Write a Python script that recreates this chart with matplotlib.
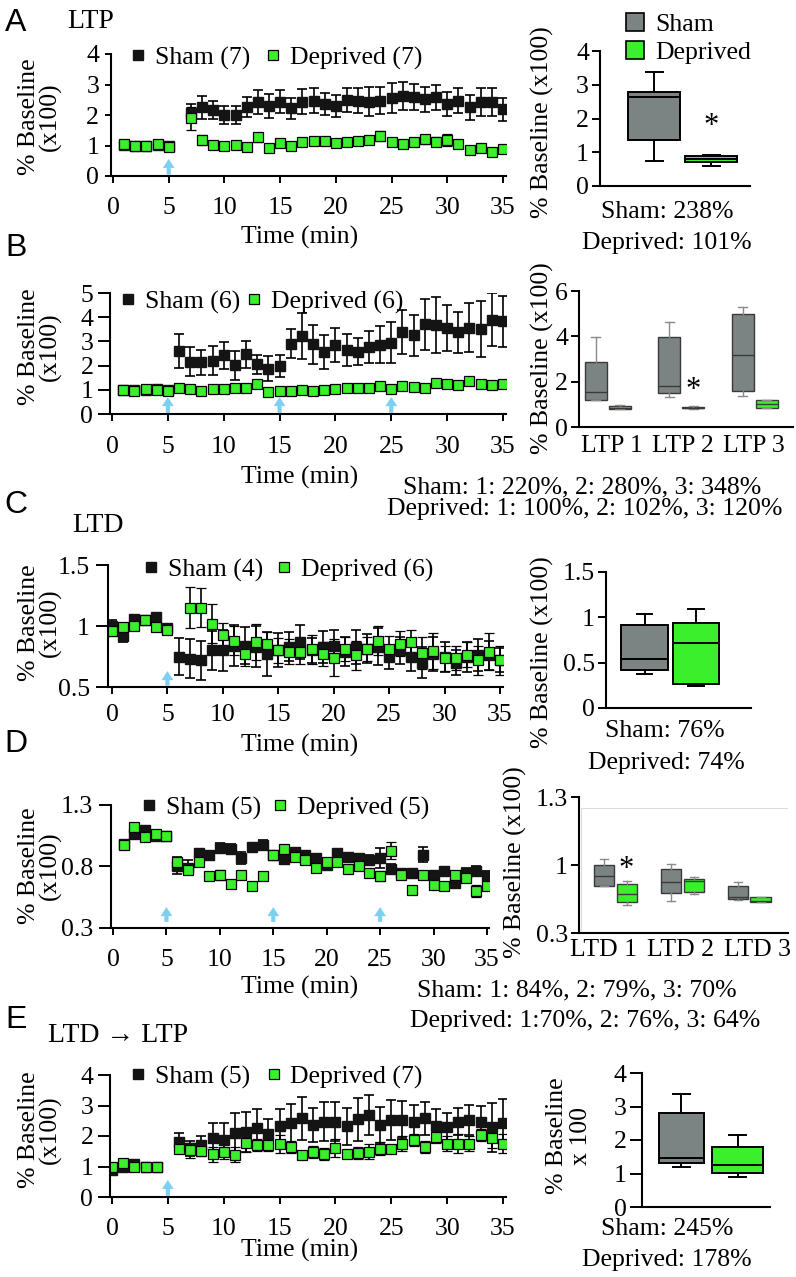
import numpy as np
import matplotlib
matplotlib.use('Agg')
import matplotlib.pyplot as plt
from matplotlib.lines import Line2D
from matplotlib.patches import Rectangle

# ---------------- data ----------------
nan = np.nan

# A: LTP, one train at 5 min
time_a = list(range(1, 6)) + list(range(7, 36))
sham_a = [1.02, 1.0, 1.0, 1.02, 0.98,
          2.05, 2.25, 2.16, 2.0, 2.0, 2.27, 2.42, 2.3, 2.44, 2.22,
          2.44, 2.47, 2.36, 2.3, 2.49, 2.47, 2.44, 2.47, 2.55, 2.63,
          2.6, 2.51, 2.58, 2.36, 2.47, 2.25, 2.42, 2.42, 2.19]
sham_a_err = [0.05, 0.05, 0.05, 0.05, 0.05,
              0.3, 0.38, 0.3, 0.28, 0.28, 0.32, 0.4, 0.4, 0.38, 0.35,
              0.4, 0.42, 0.35, 0.35, 0.38, 0.42, 0.48, 0.45, 0.5, 0.45,
              0.42, 0.4, 0.42, 0.4, 0.42, 0.4, 0.45, 0.45, 0.38]
dep_a = [1.04, 0.98, 0.99, 1.04, 0.96,
         1.89, 1.18, 1.02, 0.99, 1.02, 0.96, 1.27, 0.93, 1.07, 0.98,
         1.13, 1.15, 1.16, 1.07, 1.1, 1.16, 1.18, 1.31, 1.13, 1.05,
         1.13, 1.21, 1.13, 1.18, 1.05, 0.85, 0.93, 0.78, 0.87]
dep_a_err = [0.04, 0.04, 0.04, 0.04, 0.04,
             0.38, 0.15, 0.08, 0.08, 0.08, 0.08, 0.15, 0.08, 0.1, 0.08,
             0.08, 0.08, 0.08, 0.08, 0.1, 0.08, 0.08, 0.15, 0.08, 0.08,
             0.08, 0.15, 0.15, 0.2, 0.08, 0.08, 0.08, 0.08, 0.08]
stim_a = [5]

# B: LTP, three trains
time_b = list(range(1, 36))
sham_b = [1.0, 0.98, 1.0, 1.05, 0.98,
          2.6, 2.16, 2.13, 2.2, 2.43, 2.02, 2.46, 2.05, 1.88, 1.98,
          2.91, 3.21, 2.88, 2.57, 2.84, 2.64, 2.57, 2.77, 2.87, 2.94,
          3.39, 3.26, 3.7, 3.67, 3.56, 3.37, 3.57, 3.5, 3.9, 3.83]
sham_b_err = [0.05, 0.05, 0.05, 0.05, 0.05,
              0.7, 0.6, 0.5, 0.6, 0.55, 0.6, 0.55, 0.4, 0.5, 0.45,
              0.6, 0.95, 0.8, 0.7, 0.7, 0.65, 0.55, 0.65, 0.75, 0.85,
              0.9, 0.85, 1.05, 1.15, 0.95, 0.85, 1.0, 1.15, 1.1, 1.05]
dep_b = [0.99, 0.96, 1.02, 0.99, 0.96,
         1.06, 1.02, 0.95, 1.02, 1.02, 1.09, 1.06, 1.24, 0.89, 0.95,
         0.96, 0.99, 0.95, 0.99, 1.03, 1.09, 1.09, 1.06, 1.15, 1.03,
         1.15, 1.13, 1.09, 1.3, 1.24, 1.2, 1.36, 1.24, 1.2, 1.22]
dep_b_err = [0.05, 0.05, 0.05, 0.05, 0.05,
             0.06, 0.06, 0.06, 0.06, 0.06, 0.07, 0.06, 0.08, 0.06, 0.06,
             0.06, 0.06, 0.06, 0.06, 0.06, 0.07, 0.06, 0.06, 0.07, 0.06,
             0.07, 0.07, 0.06, 0.08, 0.07, 0.07, 0.08, 0.07, 0.07, 0.07]
stim_b = [5, 15, 25]

# C: LTD
time_c = list(range(0, 36))
sham_c = [1.0, 0.916, 1.06, 1.05, 1.075, 0.98,
          0.75, 0.73, 0.72, 0.8, 0.8, 0.84, 0.84, 0.83, 0.77, 0.8,
          0.83, 0.87, 0.8, 0.83, 0.84, 0.79, 0.83, 0.815, 0.83, 0.745,
          0.8, 0.745, 0.70, 0.77, 0.745, 0.70, 0.745, 0.76, 0.76, 0.72]
sham_c_err = [0.05, 0.05, 0.02, 0.02, 0.02, 0.03,
              0.15, 0.16, 0.16, 0.16, 0.17, 0.17, 0.15, 0.17, 0.18, 0.14,
              0.12, 0.14, 0.1, 0.13, 0.13, 0.12, 0.14, 0.12, 0.15, 0.1,
              0.11, 0.11, 0.13, 0.14, 0.12, 0.1, 0.12, 0.13, 0.12, 0.1]
dep_c = [0.96, 0.99, 1.0, 1.05, 0.99, 0.97,
         nan, 1.15, 1.15, 1.02, 0.925, 0.88, 0.77, 0.87, 0.85, 0.8,
         0.79, 0.79, 0.81, 0.77, 0.74, 0.81, 0.76, 0.81, 0.88, 0.815,
         0.855, 0.87, 0.78, 0.795, 0.735, 0.74, 0.765, 0.72, 0.79, 0.72]
dep_c_err = [0.04, 0.03, 0.02, 0.02, 0.02, 0.03,
             nan, 0.17, 0.16, 0.16, 0.1, 0.12, 0.1, 0.15, 0.1, 0.1,
             0.1, 0.1, 0.12, 0.1, 0.15, 0.1, 0.12, 0.1, 0.12, 0.1,
             0.1, 0.1, 0.13, 0.15, 0.1, 0.1, 0.1, 0.12, 0.15, 0.12]
stim_c = [5]

# D: LTD, three trains
time_d = list(range(1, 36))
sham_d = [0.98, 1.065, 1.1, 1.05, 1.05,
          0.805, 0.79, 0.91, 0.89, 0.95, 0.94, 0.87, 0.96, 0.976, 0.895,
          0.86, 0.92, 0.895, 0.87, 0.81, 0.91, 0.88, 0.87, 0.85, 0.87,
          0.78, 0.75, 0.75, 0.895, 0.73, 0.76, 0.665, 0.745, 0.76, 0.72]
sham_d_err = [0.02, 0.02, 0.02, 0.02, 0.02,
              0.07, 0.06, 0.03, 0.03, 0.04, 0.04, 0.05, 0.03, 0.04, 0.03,
              0.03, 0.03, 0.03, 0.03, 0.03, 0.03, 0.03, 0.03, 0.04, 0.08,
              0.04, 0.03, 0.03, 0.06, 0.03, 0.03, 0.04, 0.04, 0.04, 0.04]
dep_d = [0.976, 1.12, 1.04, 1.065, 1.045,
         0.84, 0.77, 0.84, 0.725, 0.73, 0.66, 0.73, 0.645, 0.72, 0.895,
         0.94, 0.875, 0.855, 0.785, 0.84, 0.835, 0.78, 0.805, 0.745, 0.72,
         0.93, 0.73, 0.61, 0.73, 0.65, 0.645, 0.73, 0.71, 0.6, 0.645]
dep_d_err = [0.02, 0.02, 0.02, 0.02, 0.02,
             0.03, 0.03, 0.03, 0.03, 0.04, 0.03, 0.03, 0.03, 0.03, 0.03,
             0.03, 0.02, 0.03, 0.03, 0.02, 0.02, 0.02, 0.02, 0.03, 0.04,
             0.07, 0.03, 0.02, 0.03, 0.02, 0.02, 0.02, 0.02, 0.05, 0.02]
stim_d = [5, 15, 25]

# E: LTD -> LTP
time_e = list(range(0, 5)) + list(range(6, 36))
sham_e = [0.88, 0.99, 1.07, 0.98, 1.0,
          1.81, 1.6, 1.7, 1.92, 1.88, 2.1, 2.14, 2.25, 2.06, 2.32,
          2.41, 2.58, 2.36, 2.47, 2.47, 2.32, 2.55, 2.68, 2.36, 2.52,
          2.54, 2.47, 2.58, 2.32, 2.3, 2.47, 2.52, 2.47, 2.28, 2.41]
sham_e_err = [0.05, 0.05, 0.05, 0.05, 0.05,
              0.3, 0.25, 0.3, 0.5, 0.55, 0.65, 0.65, 0.65, 0.5, 0.55,
              0.65, 0.7, 0.55, 0.65, 0.65, 0.6, 0.7, 0.65, 0.6, 0.65,
              0.6, 0.55, 0.55, 0.55, 0.45, 0.45, 0.5, 0.5, 0.8, 0.8]
dep_e = [0.99, 1.1, 1.0, 0.99, 1.0,
         1.59, 1.53, 1.5, 1.4, 1.48, 1.39, 1.78, 1.7, 1.7, 1.73,
         1.64, 1.39, 1.48, 1.42, 1.61, 1.42, 1.45, 1.48, 1.59, 1.59,
         1.75, 1.86, 1.64, 1.97, 1.75, 1.75, 1.75, 2.03, 1.92, 1.75]
dep_e_err = [0.04, 0.04, 0.04, 0.04, 0.04,
             0.1, 0.25, 0.15, 0.25, 0.25, 0.25, 0.3, 0.2, 0.2, 0.3,
             0.2, 0.1, 0.2, 0.2, 0.3, 0.1, 0.2, 0.25, 0.2, 0.1,
             0.25, 0.2, 0.2, 0.2, 0.25, 0.3, 0.25, 0.2, 0.3, 0.3]
stim_e = [5]

# box summaries: [whisker low, q1, median, q3, whisker high]
box_a = [[0.74, 1.37, 2.64, 2.8, 3.38],
         [0.6, 0.71, 0.8, 0.89, 0.93]]
box_b = [[1.18, 1.21, 1.55, 2.85, 3.95], [0.78, 0.8, 0.85, 0.92, 0.95],
         [1.33, 1.5, 1.8, 3.98, 4.62], [0.8, 0.82, 0.86, 0.9, 0.92],
         [1.36, 1.6, 3.17, 5.0, 5.3], [0.85, 0.86, 1.02, 1.18, 1.2]]
box_c = [[0.38, 0.415, 0.544, 0.91, 1.04],
         [0.246, 0.265, 0.717, 0.94, 1.09]]
box_d = [[0.78, 0.783, 0.886, 1.0, 1.06], [0.586, 0.614, 0.697, 0.803, 0.834],
         [0.628, 0.714, 0.824, 0.955, 1.007], [0.70, 0.717, 0.834, 0.859, 0.879],
         [0.638, 0.648, 0.672, 0.786, 0.82], [0.614, 0.614, 0.63, 0.669, 0.669]]
box_e = [[1.18, 1.32, 1.46, 2.8, 3.36],
         [0.9, 1.02, 1.25, 1.79, 2.16]]

ltp_groups = ['LTP 1', 'LTP 2', 'LTP 3']
ltd_groups = ['LTD 1', 'LTD 2', 'LTD 3']
legend_a = ['Sham (7)', 'Deprived (7)']
legend_b = ['Sham (6)', 'Deprived (6)']
legend_c = ['Sham (4)', 'Deprived (6)']
legend_d = ['Sham (5)', 'Deprived (5)']
legend_e = ['Sham (5)', 'Deprived (7)']

# ---------------- style ----------------
plt.rcParams['font.family'] = ['Liberation Serif', 'DejaVu Serif']
plt.rcParams['font.size'] = 18.5
plt.rcParams['axes.linewidth'] = 1.5
plt.rcParams['xtick.major.width'] = 1.4
plt.rcParams['ytick.major.width'] = 1.4
plt.rcParams['xtick.major.size'] = 5
plt.rcParams['ytick.major.size'] = 4.5
plt.rcParams['xtick.major.pad'] = 3
plt.rcParams['ytick.major.pad'] = 2

W, H = 796, 1277
GRAY = '#7c8383'
GREEN = '#3cef2c'
SHAM_MK = '#141414'
ARROW = '#7dd0f2'

fig = plt.figure(figsize=(W / 100, H / 100), dpi=100)


def px_axes(rect):
    l, t, r, b = rect
    ax = fig.add_axes([l / W, 1 - b / H, (r - l) / W, (b - t) / H])
    ax.spines['top'].set_visible(False)
    ax.spines['right'].set_visible(False)
    return ax


def ftext(x, y, s, **kw):
    fig.text(x / W, 1 - y / H, s, ha=kw.pop('ha', 'center'), va=kw.pop('va', 'center'), **kw)


def trace_panel(rect, t, sham, sham_err, dep, dep_err, stim, labels,
                xlim, ylim, yticks, yticklabels, leg_px, colsp, arrow_y,
                ylen=9, ypad=3, xpad=12):
    ax = px_axes(rect)
    ax.errorbar(t, sham, yerr=sham_err, fmt='s', ms=7, mfc=SHAM_MK, mec=SHAM_MK,
                ecolor='black', elinewidth=1.2, capsize=3.5, capthick=1.2)
    ax.errorbar(t, dep, yerr=dep_err, fmt='s', ms=7, mfc=GREEN, mec='black', mew=0.9,
                ecolor='black', elinewidth=1.2, capsize=3.5, capthick=1.2)
    for s in stim:
        ax.annotate('', xy=(s, arrow_y[1]), xytext=(s, arrow_y[0]),
                    xycoords=('data', 'axes fraction'), textcoords=('data', 'axes fraction'),
                    arrowprops=dict(facecolor=ARROW, edgecolor='none', width=3,
                                    headwidth=8.5, headlength=6.5, shrink=0))
    ax.set_xlim(*xlim)
    ax.set_ylim(*ylim)
    ax.set_xticks([0, 5, 10, 15, 20, 25, 30, 35])
    ax.set_yticks(yticks, yticklabels)
    ax.tick_params(axis='y', length=ylen, pad=ypad)
    ax.tick_params(axis='x', pad=xpad)
    l, tp, r, b = rect
    handles = [Line2D([], [], ls='none', marker='s', ms=7, mfc=SHAM_MK, mec=SHAM_MK),
               Line2D([], [], ls='none', marker='s', ms=7, mfc=GREEN, mec='black', mew=0.9)]
    ax.legend(handles, labels, loc='center left',
              bbox_to_anchor=((leg_px[0] - 9 - l) / (r - l), (b - leg_px[1]) / (b - tp)),
              ncol=2, frameon=False, handlelength=0.7, handletextpad=0.3,
              columnspacing=colsp, borderpad=0, borderaxespad=0)
    return ax


def box_panel(rect, data, positions, widths, faces, xlim, ylim, yticks, yticklabels,
              edge='black', lw=1.4, whisk='black', capw=0.3):
    ax = px_axes(rect)
    stats = [dict(whislo=d[0], q1=d[1], med=d[2], q3=d[3], whishi=d[4], fliers=[])
             for d in data]
    art = ax.bxp(stats, positions=positions, widths=widths, capwidths=capw,
                 patch_artist=True, showfliers=False,
                 boxprops=dict(edgecolor=edge, linewidth=lw),
                 medianprops=dict(color=edge, linewidth=lw),
                 whiskerprops=dict(color=whisk, linewidth=lw),
                 capprops=dict(color=whisk, linewidth=lw))
    for patch, fc in zip(art['boxes'], faces):
        patch.set_facecolor(fc)
    ax.set_xlim(*xlim)
    ax.set_ylim(*ylim)
    ax.set_yticks(yticks, yticklabels)
    ax.tick_params(axis='y', length=6)
    ax.tick_params(axis='x', length=0)
    ax.set_xticks([])
    return ax


# ---------------- A ----------------
trace_panel((111, 54, 506, 176), time_a, sham_a, sham_a_err, dep_a, dep_a_err, stim_a,
            legend_a, (-0.18, 35.27), (0, 4), [0, 1, 2, 3, 4], ['0', '1', '2', '3', '4'],
            (138, 58), 0.55, (0.01, 0.14), ylen=4.5, ypad=4, xpad=10)
ax = box_panel((600, 51, 750, 186), box_a, [1, 2], 0.91, [GRAY, GREEN],
               (0.05, 2.68), (0, 4), [0, 1, 2, 3, 4], ['0', '1', '2', '3', '4'])
ax.text(2, 1.75, '*', ha='center', va='center', fontsize=22)
ax.legend([Line2D([], [], ls='none', marker='s', ms=13, mfc=GRAY, mec='black', mew=1.2),
           Line2D([], [], ls='none', marker='s', ms=13, mfc=GREEN, mec='black', mew=1.2)],
          ['Sham', 'Deprived'], loc='upper left', bbox_to_anchor=(0.165, 1.28),
          frameon=False, handlelength=0.8, handletextpad=0.4, labelspacing=0.2,
          borderpad=0, borderaxespad=0)

# ---------------- B ----------------
trace_panel((110, 293, 506, 414), time_b, sham_b, sham_b_err, dep_b, dep_b_err, stim_b,
            legend_b, (-0.18, 35.27), (0, 5), [0, 1, 2, 3, 4, 5],
            ['0', '1', '2', '3', '4', '5'], (128, 302), 0.2, (0.01, 0.14), xpad=11)
ax = box_panel((579, 291, 793, 427), box_b,
               [0.835, 1.16, 1.835, 2.16, 2.835, 3.16], 0.3, [GRAY, GREEN] * 3,
               (0.605, 3.52), (0, 6), [0, 2, 4, 6], ['0', '2', '4', '6'],
               edge='#3a3a3a', lw=1.0, whisk='#8a8a8a', capw=0.12)
ax.set_xticks([1.05, 2.02, 2.99], ltp_groups)
ax.tick_params(axis='x', pad=6)
ax.text(2.16, 1.6, '*', ha='center', va='center', fontsize=22)

# ---------------- C ----------------
trace_panel((108, 565, 503, 687), time_c, sham_c, sham_c_err, dep_c, dep_c_err, stim_c,
            legend_c, (-0.36, 35.27), (0.5, 1.5), [0.5, 1, 1.5], ['0.5', '1', '1.5'],
            (151, 570), 0.47, (0.01, 0.13), ypad=4, xpad=7)
box_panel((606, 572, 751, 708), box_c, [1, 2], 0.91, [GRAY, GREEN],
          (0.25, 3.07), (0, 1.5), [0, 0.5, 1, 1.5], ['0', '0.5', '1', '1.5'])

# ---------------- D ----------------
trace_panel((111, 805, 489, 928), time_d, sham_d, sham_d_err, dep_d, dep_d_err, stim_d,
            legend_d, (-0.19, 35.19), (0.3, 1.3), [0.3, 0.8, 1.3], ['0.3', '0.8', '1.3'],
            (149, 808), 0.4, (0.05, 0.17), ypad=4, xpad=10)
ax = box_panel((579, 797, 788, 933), box_d,
               [0.83, 1.17, 1.83, 2.17, 2.83, 3.17], 0.3, [GRAY, GREEN] * 3,
               (0.46, 3.58), (0.3, 1.7), [0.3, 1.0, 1.7], ['0.3', '1', '1.3'],
               edge='#3a3a3a', lw=1.0, whisk='#8a8a8a', capw=0.12)
ax.set_xticks([0.82, 1.97, 3.12], ltd_groups)
ax.tick_params(axis='x', pad=4)
ax.add_patch(Rectangle((0.01, 0), 0.99, 0.92, transform=ax.transAxes, fill=False,
                       edgecolor='#dddddd', linewidth=0.8))
ax.text(1.17, 0.95, '*', ha='center', va='center', fontsize=22)

# ---------------- E ----------------
trace_panel((110, 1075, 506, 1197), time_e, sham_e, sham_e_err, dep_e, dep_e_err, stim_e,
            legend_e, (-0.18, 35.27), (0, 4), [0, 1, 2, 3, 4], ['0', '1', '2', '3', '4'],
            (138, 1077), 0.58, (0.01, 0.14), xpad=10)
ax = box_panel((642, 1073, 770, 1207), box_e, [1, 2], [0.8, 0.91], [GRAY, GREEN],
               (0.295, 2.58), (0, 4), [0, 1, 2, 3, 4], ['0', '1', '2', '3', '4'])
ax.tick_params(axis='y', length=9)

# ---------------- labels and text ----------------
sans = ['Liberation Sans', 'DejaVu Sans']
for letter, y in [('A', 23), ('B', 248), ('C', 505), ('D', 744), ('E', 1020)]:
    ftext(16, y, letter, fontsize=23, family=sans)
ftext(67, 22, 'LTP', ha='left', fontsize=20)
ftext(72, 525, 'LTD', ha='left', fontsize=20)
ftext(48, 1035, 'LTD \u2192 LTP', ha='left', fontsize=20)

for y in [237, 477, 745, 987, 1250]:
    ftext(300, y, 'Time (min)')
for y in [117, 347, 623, 866, 1130]:
    ftext(40, y, '% Baseline\n(x100)', rotation=90, linespacing=0.95)

ftext(542, 122, '% Baseline (x100)', rotation=90)
ftext(542, 358, '% Baseline (x100)', rotation=90)
ftext(542, 652, '% Baseline (x100)', rotation=90)
ftext(515, 862, '% Baseline (x100)', rotation=90)
ftext(569, 1136, '% Baseline\nx 100', rotation=90, linespacing=1.15)

ftext(667, 212, 'Sham: 238%')
ftext(667, 243, 'Deprived: 101%')
ftext(582, 487, 'Sham: 1: 220%, 2: 280%, 3: 348%')
ftext(585, 509, 'Deprived: 1: 100%, 2: 102%, 3: 120%')
ftext(665, 731, 'Sham: 76%')
ftext(666, 763, 'Deprived: 74%')
ftext(577, 990, 'Sham: 1: 84%, 2: 79%, 3: 70%')
ftext(585, 1021, 'Deprived: 1:70%, 2: 76%, 3: 64%')
ftext(667, 1229, 'Sham: 245%')
ftext(667, 1260, 'Deprived: 178%')

fig.savefig('out.png', dpi=100)
